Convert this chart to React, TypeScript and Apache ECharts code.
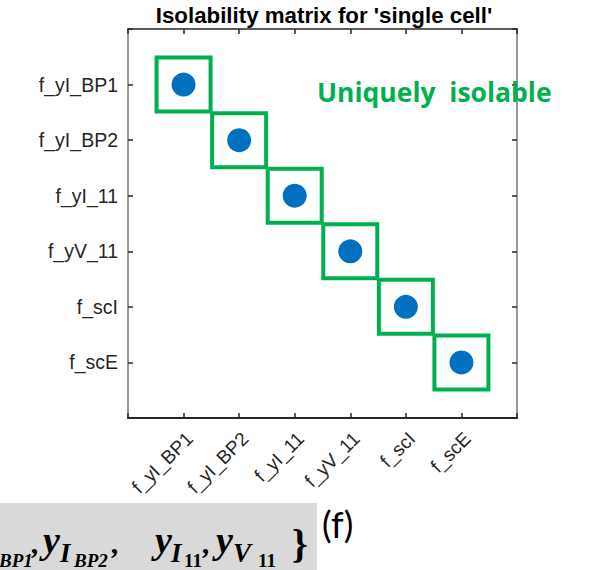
import React, { useEffect, useRef } from "react";
import * as echarts from "echarts";

// ---- data ----
const xLabels = ["f_yI_BP1", "f_yI_BP2", "f_yI_11", "f_yV_11", "f_scI", "f_scE"];
const yLabels = ["f_yI_BP1", "f_yI_BP2", "f_yI_11", "f_yV_11", "f_scI", "f_scE"];
// isolable (fault index on x, fault index on y)
const pointX = [1, 2, 3, 4, 5, 6];
const pointY = [1, 2, 3, 4, 5, 6];
const titleText = "Isolability matrix for 'single cell'";
const noteText = "Uniquely\u00a0 isolable";
const figLabel = "(f)";

const FONT = "'Liberation Sans', Arial, sans-serif";
const MATH = "'Liberation Serif', 'Times New Roman', serif";
const DARK = "#262626";
const GREEN = "#00b050";

const mathPieces = [
  { t: "BP1", x: -1, b: 567, fs: 19, it: true },
  { t: ",", x: 32, b: 553, fs: 30, it: true },
  { t: "y", x: 43, b: 553, fs: 38, it: true },
  { t: "I", x: 60, b: 562, fs: 27, it: true },
  { t: "BP2", x: 74, b: 567, fs: 19, it: true },
  { t: ",", x: 112, b: 553, fs: 30, it: true },
  { t: "y", x: 155, b: 553, fs: 38, it: true },
  { t: "I", x: 171, b: 562, fs: 27, it: true },
  { t: "11", x: 184, b: 567, fs: 19, it: false },
  { t: ",", x: 203, b: 553, fs: 30, it: true },
  { t: "y", x: 216, b: 553, fs: 38, it: true },
  { t: "V", x: 233, b: 562, fs: 27, it: true },
  { t: "11", x: 258, b: 567, fs: 19, it: false },
  { t: "}", x: 292, b: 557, fs: 40, it: false },
];

export default function App() {
  const ref = useRef<HTMLDivElement>(null);
  useEffect(() => {
    if (!ref.current) return;
    const chart = echarts.init(ref.current, null, { renderer: "svg" });
    const pts = pointX.map((x, i) => [x, pointY[i]]);
    const fmtX = (v: number) => xLabels[v - 1] ?? "";
    const fmtY = (v: number) => yLabels[v - 1] ?? "";
    const baseAxis = {
      type: "value" as const,
      min: 0,
      max: 7,
      interval: 1,
      splitLine: { show: false },
      axisTick: { show: true, inside: true, length: 5, lineStyle: { color: DARK, width: 1.5 } },
    };
    const graphic: any[] = [
      {
        type: "text",
        x: 324,
        y: 15.5,
        style: {
          text: titleText,
          fontSize: 22.3,
          fontWeight: "bold",
          fontFamily: FONT,
          fill: "#000",
          align: "center",
          verticalAlign: "middle",
        },
      },
      {
        type: "text",
        x: 317,
        y: 92,
        z: 1,
        style: {
          text: noteText,
          fontSize: 26.5,
          fontWeight: "bold",
          fontFamily: "'Open Sans', Lato, sans-serif",
          fill: GREEN,
          align: "left",
          verticalAlign: "middle",
        },
      },
      {
        type: "rect",
        shape: { x: 0, y: 503, width: 317, height: 67 },
        style: { fill: "#d9d9d9" },
        z: 0,
      },
      {
        type: "text",
        x: 322,
        y: 524,
        style: {
          text: figLabel,
          fontSize: 36,
          fontFamily: "Lato, 'Open Sans', sans-serif",
          fill: "#000",
          align: "left",
          verticalAlign: "middle",
        },
      },
      ...mathPieces.map((p) => ({
        type: "text",
        x: p.x,
        y: p.b - 0.34 * p.fs,
        z: 2,
        style: {
          text: p.t,
          fontSize: p.fs,
          fontWeight: "bold",
          fontStyle: p.it ? "italic" : "normal",
          fontFamily: MATH,
          fill: "#000",
          align: "left",
          verticalAlign: "middle",
        },
      })),
    ];
    chart.setOption({
      animation: false,
      backgroundColor: "#ffffff",
      grid: { left: 128, top: 29, width: 389, height: 389, containLabel: false, outerBoundsMode: "none" },
      xAxis: [
        {
          ...baseAxis,
          position: "bottom",
          axisLine: { show: true, onZero: false, lineStyle: { color: DARK, width: 2 } },
          axisLabel: {
            show: true,
            rotate: 45,
            margin: 3,
            align: "right",
            verticalAlign: "top",
            padding: [5, 6, 0, 0],
            fontSize: 19,
            fontFamily: FONT,
            color: DARK,
            formatter: fmtX,
          },
        },
        {
          ...baseAxis,
          position: "top",
          axisLine: { show: true, onZero: false, lineStyle: { color: DARK, width: 1.5 } },
          axisLabel: { show: false },
        },
      ],
      yAxis: [
        {
          ...baseAxis,
          inverse: true,
          position: "left",
          axisLine: { show: true, onZero: false, lineStyle: { color: "#9a9a9a", width: 2 } },
          axisLabel: {
            show: true,
            margin: 10,
            padding: [4, 0, 0, 0],
            fontSize: 19.5,
            fontFamily: FONT,
            color: DARK,
            formatter: fmtY,
          },
        },
        {
          ...baseAxis,
          inverse: true,
          position: "right",
          axisLine: { show: true, onZero: false, lineStyle: { color: "#9a9a9a", width: 2 } },
          axisLabel: { show: false },
        },
      ],
      series: [
        {
          type: "scatter",
          name: "box",
          xAxisIndex: 0,
          yAxisIndex: 0,
          data: pts,
          symbol: "rect",
          symbolSize: 54,
          itemStyle: { color: "rgba(0,0,0,0)", borderColor: GREEN, borderWidth: 4, opacity: 1 },
          z: 2,
          silent: true,
        },
        {
          type: "scatter",
          name: "isolable",
          xAxisIndex: 0,
          yAxisIndex: 0,
          data: pts,
          symbol: "circle",
          symbolSize: 24,
          itemStyle: { color: "#0070c0", opacity: 1 },
          z: 3,
          silent: true,
        },
      ],
      graphic,
    });
    return () => chart.dispose();
  }, []);
  return (
    <div
      ref={ref}
      style={{ position: "absolute", left: 0, top: 0, width: 607, height: 570 }}
    />
  );
}
